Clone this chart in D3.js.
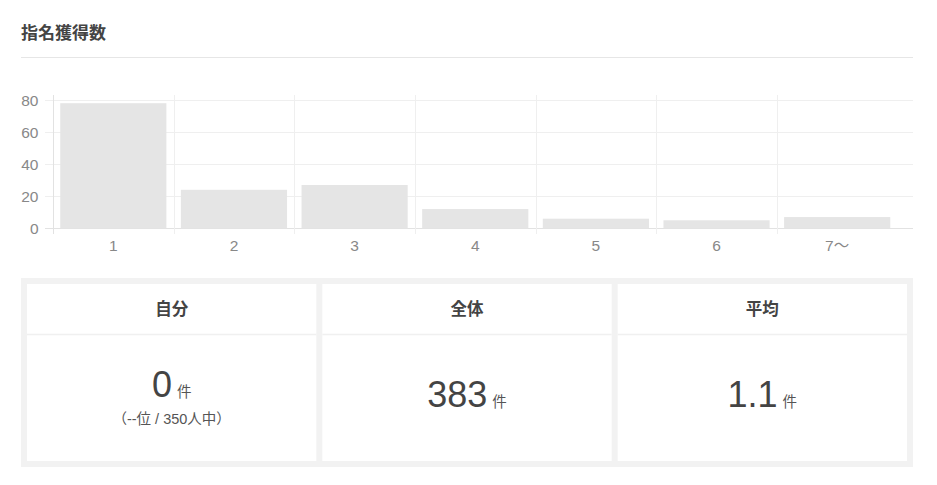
<!DOCTYPE html>
<html>
<head>
<meta charset="utf-8">
<script src="https://cdn.jsdelivr.net/npm/d3@7"></script>
<style>
  html, body { margin: 0; padding: 0; background: #fff; }
  svg { display: block; }
</style>
</head>
<body>
<svg id="chart" width="937" height="485"></svg>
<script>
const title = "指名獲得数";
const categories = ["1", "2", "3", "4", "5", "6", "7～"];
const counts = [78, 24, 27, 12, 6, 5, 7];
const yTicks = [0, 20, 40, 60, 80];
const cardTitles = ["自分", "全体", "平均"];
const cardValues = ["0", "383", "1.1"];
const cardUnit = "件";
const cardSubs = ["（--位 / 350人中）", "", ""];

const svg = d3.select("#chart");
const latin = "'Liberation Sans', Arial, Helvetica, 'Noto Sans CJK JP', sans-serif";
const cjk = "'Noto Sans CJK JP', 'Liberation Sans', sans-serif";

// Title and divider
svg.append("text").attr("x", 21).attr("y", 38.8)
  .attr("font-family", cjk).attr("font-weight", "bold").attr("font-size", 17)
  .attr("fill", "#444").text(title);
svg.append("line").attr("x1", 21).attr("x2", 913).attr("y1", 57.5).attr("y2", 57.5)
  .attr("stroke", "#e6e6e6").attr("stroke-width", 1);

// Chart
const left = 53, right = 897.5, gridRight = 913;
const x = d3.scaleBand().domain(categories).range([left, right])
  .paddingInner(0.12).paddingOuter(0.06);
const y = d3.scaleLinear().domain([0, 80]).range([228.3, 100]);
const step = x.step();

const grid = svg.append("g");
grid.selectAll("line.h").data(yTicks).join("line")
  .attr("x1", 45).attr("x2", gridRight)
  .attr("y1", d => Math.round(y(d)) + 0.5).attr("y2", d => Math.round(y(d)) + 0.5)
  .attr("stroke", d => d === 0 ? "#e2e2e2" : "#efefef").attr("stroke-width", 1);
grid.selectAll("line.v").data(categories).join("line")
  .attr("x1", d => Math.round(x(d) - step * 0.06) + 0.5)
  .attr("x2", d => Math.round(x(d) - step * 0.06) + 0.5)
  .attr("y1", 95).attr("y2", 234)
  .attr("stroke", (d, i) => i === 0 ? "#e2e2e2" : "#efefef").attr("stroke-width", 1);

svg.append("g").selectAll("rect").data(counts).join("rect")
  .attr("x", (d, i) => x(categories[i]))
  .attr("width", x.bandwidth())
  .attr("y", d => y(d))
  .attr("height", d => y(0) - y(d))
  .attr("fill", "#e5e5e5");

svg.append("g").selectAll("text").data(yTicks).join("text")
  .attr("x", 38.5).attr("y", d => y(d))
  .attr("dy", "0.36em").attr("text-anchor", "end")
  .attr("font-family", latin).attr("font-size", 15.5).attr("fill", "#888")
  .text(d => d);

svg.append("g").selectAll("text").data(categories).join("text")
  .attr("x", d => x(d) + x.bandwidth() / 2).attr("y", 250.7)
  .attr("text-anchor", "middle")
  .attr("font-family", latin).attr("font-size", 15.5).attr("fill", "#888")
  .text(d => d);

// Cards
const cardX0 = 21, cardX1 = 913, cardY0 = 278, cardY1 = 467, pad = 6;
svg.append("rect").attr("x", cardX0).attr("y", cardY0)
  .attr("width", cardX1 - cardX0).attr("height", cardY1 - cardY0).attr("fill", "#f2f2f2");
const cw = (cardX1 - cardX0 - pad * 4) / 3;
const cards = svg.append("g").selectAll("g").data(cardTitles).join("g")
  .attr("transform", (d, i) => `translate(${cardX0 + pad + i * (cw + pad)},${cardY0 + pad})`);
cards.append("rect").attr("width", cw).attr("height", cardY1 - cardY0 - pad * 2).attr("fill", "#fff");
cards.append("line").attr("x1", 0).attr("x2", cw).attr("y1", 50.5).attr("y2", 50.5)
  .attr("stroke", "#f0f0f0").attr("stroke-width", 1.5);
cards.append("text").attr("x", cw / 2).attr("y", 30.5).attr("text-anchor", "middle")
  .attr("font-family", cjk).attr("font-weight", "bold").attr("font-size", 16.5)
  .attr("fill", "#444").text(d => d);
const vt = cards.append("text").attr("x", cw / 2)
  .attr("y", (d, i) => cardSubs[i] ? 112.5 : 123.3)
  .attr("text-anchor", "middle");
vt.append("tspan").attr("font-family", latin).attr("font-size", 36).attr("fill", "#444")
  .text((d, i) => cardValues[i]);
vt.append("tspan").attr("font-family", cjk).attr("font-size", 14.5).attr("fill", "#555")
  .attr("dx", 5).text(cardUnit);
cards.append("text").attr("x", cw / 2).attr("y", 139.5).attr("text-anchor", "middle")
  .attr("font-family", latin).attr("font-size", 14.5).attr("fill", "#555")
  .text((d, i) => cardSubs[i]);
</script>
</body>
</html>
